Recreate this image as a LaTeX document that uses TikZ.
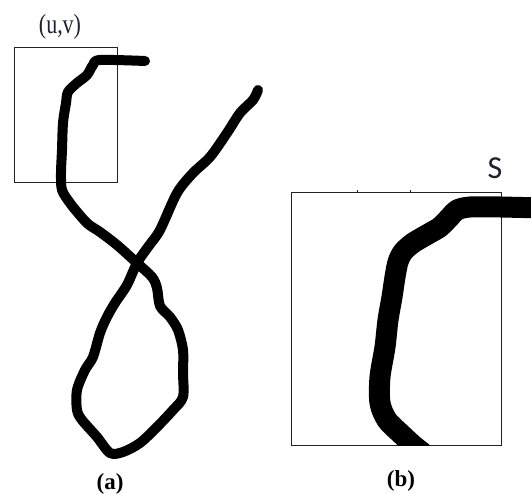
\documentclass[tikz,border=0pt]{standalone}
\usepackage{fontspec}
\setmainfont{Liberation Serif}
\newfontfamily\slidefont{Carlito}
\usepackage{tikz}
\usetikzlibrary{positioning}
\definecolor{inkblue}{RGB}{32,32,52}
\definecolor{framegray}{RGB}{35,35,35}

\begin{document}
\begin{tikzpicture}[
    x=1pt, y=-1pt,
    frame/.style={draw=framegray, line width=1.4pt},
    pen/.style={line width=10pt, line cap=round, line join=round, black},
    thickpen/.style={line width=21pt, line cap=butt, line join=round, black},
    caption/.style={font=\fontsize{23}{23}\selectfont\bfseries, inner sep=0pt},
    tag/.style={inner sep=0pt, text=inkblue}
]
    \useasboundingbox (0,0) rectangle (531,494);

    % (a) whole stroke and the window at (u,v)
    \node[frame, minimum width=103pt, minimum height=135pt, anchor=north west, inner sep=0pt] (win) at (14,47) {};
    \draw[pen] plot[smooth, tension=0.5] coordinates {
        (145,61) (100,60) (93,65) (87,75) (77,83) (68,92) (66,103) (63,123)
        (62,150) (61,173) (62,190) (70,203) (78,213) (88,224) (100,232)
        (117,245) (137,263) (152,277) (157,288) (160,306) (170,317) (178,330)
        (183,350) (183,373) (183,397) (173,410) (157,427) (140,443) (123,452)
        (110,453) (97,437) (82,420) (77,410) (77,390) (85,370) (93,357)
        (100,333) (107,317) (115,303) (127,285) (137,263) (148,247) (160,230)
        (177,193) (193,173) (210,157) (227,133) (240,113) (253,100) (258,90)};
    \node[tag, font=\fontsize{22}{22}\selectfont] (uv) at (60,27) {\scalebox{1}[1.25]{(u,v)}};

    % (b) enlarged window
    \node[frame, minimum width=210pt, minimum height=253pt, anchor=north west, inner sep=0pt] (zoomwin) at (291,192) {};
    \begin{scope}
        \clip (280,150) rectangle (531,446);
        \draw[thickpen] plot[smooth, tension=0.5] coordinates {
            (540,208) (500,207) (470,207) (457,210) (450,217) (440,227)
            (430,233) (413,243) (403,252) (398,262) (395,277) (392,297)
            (388,320) (385,347) (380,377) (380,403) (387,420) (400,433)
            (413,445) (423,453)};
    \end{scope}
    \draw[inkblue, line width=1pt] (357,190) -- (357,192);
    \draw[inkblue, line width=1pt] (410,190) -- (410,192);
    \node[tag, font=\slidefont\fontsize{32}{32}\selectfont] (s) at (495,168) {S};

    % captions
    \node[caption] (capa) at (110,484) {(a)};
    \node[caption] (capb) at (401,481) {(b)};
\end{tikzpicture}
\end{document}
